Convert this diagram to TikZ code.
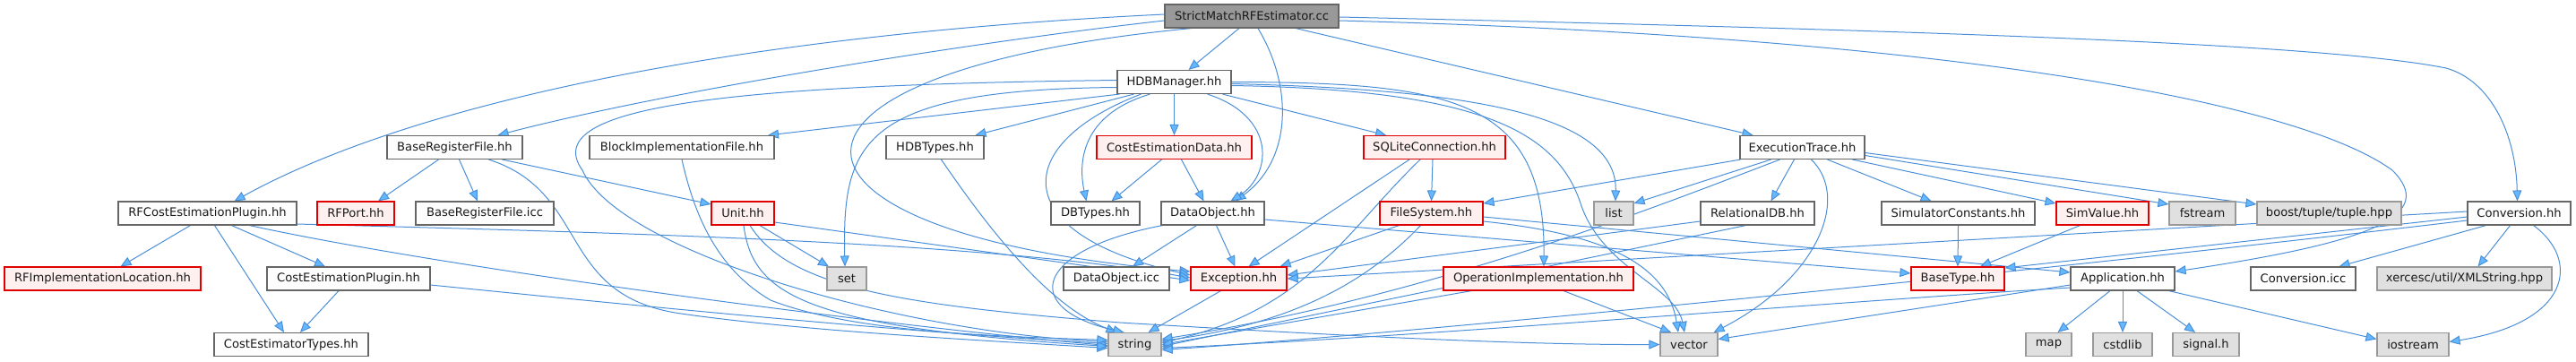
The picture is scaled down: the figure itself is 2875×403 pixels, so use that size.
\documentclass[tikz,border=0pt]{standalone}
\usepackage{fontspec}
\setmainfont{DejaVu Sans}
\usetikzlibrary{arrows.meta,calc}
\definecolor{ec}{HTML}{4A8FD8}
\definecolor{af}{HTML}{63B8FF}
\definecolor{nbd}{HTML}{666666}
\definecolor{nbf}{HTML}{FCFDFC}
\definecolor{rbd}{HTML}{E00000}
\definecolor{rbf}{HTML}{FFF0F0}
\definecolor{gbd}{HTML}{999999}
\definecolor{gbf}{HTML}{E0E0E0}
\definecolor{rootf}{HTML}{999999}
\pgfdeclarelayer{back}
\pgfdeclarelayer{bg}
\pgfsetlayers{back,bg,main}
\begin{document}
\begin{tikzpicture}[x=0.5pt,y=-0.5pt,
 nb/.style={draw=nbd, fill=nbf, line width=0.55pt, minimum height=13pt, inner sep=0pt, font=\fontsize{6.55}{8}\selectfont, text=black!90},
 rb/.style={nb, draw=rbd, fill=rbf},
 gb/.style={nb, draw=gbd, fill=gbf},
 rootb/.style={nb, fill=rootf, draw=nbd},
 e/.style={draw=ec, line width=0.5pt, -{Triangle[length=6pt,width=5pt,fill=af]}}]
\begin{pgfonlayer}{back}
\fill[white] (0,0) rectangle (2875,403);
\end{pgfonlayer}
\useasboundingbox (0,0) rectangle (2875,403);
% row 0
\node[rootb, minimum width=97pt] (S) at (1397,18) {StrictMatchRFEstimator.cc};
% row 1
\node[nb, minimum width=63.5pt] (H) at (1310.5,91.5) {HDBManager.hh};
% row 2
\node[nb, minimum width=75.5pt] (BRF) at (507.5,164.5) {BaseRegisterFile.hh};
\node[nb, minimum width=103pt] (BIF) at (761,164.5) {BlockImplementationFile.hh};
\node[nb, minimum width=54.5pt] (HT) at (1043.5,164.5) {HDBTypes.hh};
\node[rb, minimum width=86.5pt] (CED) at (1310.5,164.5) {CostEstimationData.hh};
\node[rb, minimum width=79pt] (SQL) at (1601,164.5) {SQLiteConnection.hh};
\node[nb, minimum width=69.5pt] (ET) at (2011.5,164.5) {ExecutionTrace.hh};
% row 3
\node[nb, minimum width=99.5pt] (RFC) at (231.5,238) {RFCostEstimationPlugin.hh};
\node[rb, minimum width=43pt] (RFP) at (397,238) {RFPort.hh};
\node[nb, minimum width=77pt] (BRI) at (541,238) {BaseRegisterFile.icc};
\node[rb, minimum width=35pt] (U) at (829,238) {Unit.hh};
\node[nb, minimum width=49.5pt] (DBT) at (1222.5,238) {DBTypes.hh};
\node[nb, minimum width=57.5pt] (DO) at (1353.5,238) {DataObject.hh};
\node[rb, minimum width=57.5pt] (FS) at (1597.5,238) {FileSystem.hh};
\node[gb, minimum width=22pt] (list) at (1801,238) {list};
\node[nb, minimum width=63.5pt] (RDB) at (1961.5,238) {RelationalDB.hh};
\node[nb, minimum width=85.5pt] (SC) at (2185.5,238) {SimulatorConstants.hh};
\node[rb, minimum width=51.5pt] (SV) at (2346.5,238) {SimValue.hh};
\node[gb, minimum width=37pt] (fstream) at (2458,238) {fstream};
\node[gb, minimum width=80.5pt] (boost) at (2599.5,238) {boost/tuple/tuple.hpp};
\node[nb, minimum width=57.5pt] (CONV) at (2811.5,238) {Conversion.hh};
% row 4
\node[rb, minimum width=109.5pt] (RIL) at (114.5,311) {RFImplementationLocation.hh};
\node[nb, minimum width=91pt] (CEP) at (389,311) {CostEstimationPlugin.hh};
\node[gb, minimum width=22pt] (set) at (945,311) {set};
\node[nb, minimum width=59pt] (DOI) at (1246,311) {DataObject.icc};
\node[rb, minimum width=53.5pt] (EX) at (1382.5,311) {Exception.hh};
\node[rb, minimum width=106pt] (OI) at (1717,311) {OperationImplementation.hh};
\node[rb, minimum width=52pt] (BT) at (2185,311) {BaseType.hh};
\node[nb, minimum width=58pt] (APP) at (2369,311) {Application.hh};
\node[nb, minimum width=58.5pt] (CICC) at (2570.5,311) {Conversion.icc};
\node[gb, minimum width=97.5pt] (XML) at (2750.5,311) {xercesc/util/XMLString.hpp};
% row 5
\node[nb, minimum width=86pt] (CET) at (325,384.5) {CostEstimatorTypes.hh};
\node[gb, minimum width=29.5pt] (string) at (1266.5,384.5) {string};
\node[gb, minimum width=32pt] (vector) at (1885,384.5) {vector};
\node[gb, minimum width=25.5pt] (map) at (2286.5,384.5) {map};
\node[gb, minimum width=33pt] (cstdlib) at (2369,384.5) {cstdlib};
\node[gb, minimum width=37pt] (signal) at (2462,384.5) {signal.h};
\node[gb, minimum width=40pt] (iostream) at (2693,384.5) {iostream};

\begin{pgfonlayer}{bg}
% StrictMatchRFEstimator.cc
\draw[e] ($(S.south)+(-14,0)$) -- ($(H.north)+(16,0)$);
\draw[e] ($(S.south)+(7,0)$) .. controls (1445,100) and (1440,180) .. ($(DO.north)+(25,0)$);
\draw[e] ($(S.west)+(0,5)$) .. controls (1100,45) and (750,100) .. ($(BRF.north)+(48,0)$);
\draw[e] ($(S.west)+(0,-2)$) .. controls (800,40) and (450,120) .. ($(RFC.north)+(30,0)$);
\draw[e] ($(S.south)+(-67,0)$) .. controls (820,80) and (830,260) .. ($(EX.west)+(0,-8)$);
\draw[e] ($(S.south)+(49,0)$) -- ($(ET.north)+(-55,0)$);
\draw[e] ($(S.east)+(0,1)$) .. controls (2200,35) and (2600,50) .. (2730,76) .. controls (2780,90) and (2808,150) .. ($(CONV.north)+(-2,0)$);
\draw[e] ($(S.east)+(0,5)$) .. controls (2150,40) and (2560,110) .. (2670,190) .. controls (2720,240) and (2650,270) .. ($(APP.east)+(0,-8)$);
% HDBManager.hh
\draw[e] ($(H.south west)+(3,0)$) -- ($(BIF.north)+(96,0)$);
\draw[e] ($(H.south)+(-45,0)$) -- ($(HT.north)+(45,0)$);
\draw[e] (H) -- (CED);
\draw[e] ($(H.south)+(-27,0)$) .. controls (1200,130) and (1205,190) .. ($(DBT.north)+(-10,0)$);
\draw[e] ($(H.south)+(37,0)$) .. controls (1425,130) and (1420,195) .. ($(DO.north)+(20,0)$);
\draw[e] ($(H.south)+(-37,0)$) .. controls (1130,160) and (1120,260) .. ($(EX.west)+(0,-4)$);
\draw[e] (H) -- (SQL);
\draw[e] ($(H.east)+(0,2)$) .. controls (1650,100) and (1805,130) .. ($(list.north)+(2,0)$);
\draw[e] ($(H.east)+(0,0)$) .. controls (1620,92) and (1725,110) .. ($(OI.north)+(6,0)$);
\draw[e] ($(H.east)+(0,4)$) .. controls (1660,100) and (1740,150) .. (1765,230) .. controls (1790,300) and (1870,320) .. ($(vector.north)+(-5,0)$);
\draw[e] ($(H.west)+(0,6)$) .. controls (960,100) and (940,160) .. ($(set.north)+(-2,0)$);
\draw[e] ($(H.west)+(0,-2)$) .. controls (800,95) and (600,120) .. (650,190) .. controls (690,280) and (1000,370) .. ($(string.west)+(0,-3)$);
% BaseRegisterFile.hh
\draw[e] ($(BRF.south)+(-18,0)$) -- ($(RFP.north)+(25,0)$);
\draw[e] ($(BRF.south)+(5,0)$) -- ($(BRI.north)+(-8,0)$);
\draw[e] ($(BRF.south)+(53,0)$) -- ($(U.west)+(0,-10)$);
\draw[e] ($(BRF.south)+(38,0)$) .. controls (660,215) and (620,330) .. (760,350) .. controls (900,370) and (1100,380) .. ($(string.west)+(0,4)$);
% RFCostEstimationPlugin.hh
\draw[e] ($(RFC.south)+(-19,0)$) -- ($(RIL.north)+(20,0)$);
\draw[e] ($(RFC.south)+(8,0)$) -- ($(CET.north)+(-8,0)$);
\draw[e] ($(RFC.south)+(27,0)$) -- ($(CEP.north)+(-26,0)$);
\draw[e] ($(RFC.south)+(47,0)$) .. controls (500,300) and (1000,365) .. ($(string.west)+(0,1)$);
\draw[e] ($(RFC.east)+(0,12)$) .. controls (700,260) and (1100,270) .. ($(EX.west)+(0,-1)$);
% CostEstimationPlugin.hh
\draw[e] ($(CEP.south)+(-11,0)$) -- ($(CET.north)+(10,0)$);
\draw[e] ($(CEP.east)+(0,7)$) .. controls (700,340) and (1000,370) .. ($(string.west)+(0,-1)$);
% Unit.hh
\draw[e] ($(U.south)+(19,0)$) -- ($(set.north)+(-20,0)$);
\draw[e] ($(U.south)+(1,0)$) .. controls (840,330) and (900,365) .. ($(string.west)+(0,2)$);
\draw[e] ($(U.south)+(8,0)$) .. controls (880,320) and (1000,340) .. (1250,360) .. controls (1500,375) and (1700,385) .. (vector.west);
\draw[e] ($(U.east)+(0,10)$) -- ($(EX.west)+(0,2)$);
% BlockImplementationFile.hh, HDBTypes.hh
\draw[e] (BIF.south) .. controls (775,240) and (800,300) .. (860,335) .. controls (950,370) and (1100,375) .. ($(string.west)+(0,-5)$);
\draw[e] ($(HT.south)+(7,0)$) .. controls (1120,280) and (1180,345) .. ($(string.north)+(-20,0)$);
% CostEstimationData.hh
\draw[e] ($(CED.south)+(-14,0)$) -- ($(DBT.north)+(18,0)$);
\draw[e] ($(CED.south)+(8,0)$) -- ($(DO.north)+(-10,0)$);
% DataObject.hh
\draw[e] ($(DO.south)+(-18,0)$) -- ($(DOI.north)+(18,0)$);
\draw[e] ($(DO.south)+(4,0)$) -- ($(EX.north)+(-4,0)$);
\draw[e] ($(DO.south west)+(2,0)$) .. controls (1150,280) and (1140,345) .. ($(string.north)+(-12,0)$);
\draw[e] ($(DO.east)+(0,7)$) -- ($(BT.west)+(0,-6)$);
% Exception.hh
\draw[e] ($(EX.south)+(-20,0)$) -- ($(string.north)+(15,0)$);
% SQLiteConnection.hh
\draw[e] ($(SQL.south)+(-2,0)$) -- (FS.north);
\draw[e] ($(SQL.south)+(-28,0)$) -- ($(EX.north)+(11,0)$);
\draw[e] ($(SQL.south)+(-16,0)$) .. controls (1500,260) and (1460,345) .. ($(string.east)+(0,-2)$);
% FileSystem.hh
\draw[e] ($(FS.south)+(-36,0)$) -- ($(EX.north east)+(-8,0)$);
\draw[e] ($(FS.south)+(-12,0)$) .. controls (1530,310) and (1450,360) .. ($(string.east)+(0,-4)$);
\draw[e] ($(FS.east)+(0,9)$) .. controls (1780,260) and (1860,290) .. ($(vector.north)+(-12,0)$);
\draw[e] ($(FS.east)+(0,4)$) -- ($(APP.west)+(0,-7)$);
% ExecutionTrace.hh
\draw[e] ($(ET.south west)+(1,0)$) -- ($(FS.east)+(0,-11)$);
\draw[e] ($(ET.south)+(-35,0)$) -- ($(list.east)+(0,-11)$);
\draw[e] ($(ET.south)+(-9,0)$) -- ($(RDB.north)+(15,0)$);
\draw[e] ($(ET.south)+(10,0)$) .. controls (2065,220) and (2030,310) .. ($(vector.north east)+(-5,0)$);
\draw[e] ($(ET.south)+(28,0)$) -- ($(SC.north)+(-30,0)$);
\draw[e] ($(ET.south)+(56,0)$) -- ($(SV.west)+(0,-11)$);
\draw[e] ($(ET.east)+(0,9)$) -- ($(fstream.west)+(0,-10)$);
\draw[e] ($(ET.east)+(0,6)$) -- ($(boost.west)+(0,-10)$);
\draw[e] ($(ET.south)+(-25,0)$) .. controls (1850,230) and (1600,330) .. ($(string.east)+(0,-6)$);
% RelationalDB.hh
\draw[e] ($(RDB.west)+(0,9)$) -- ($(EX.east)+(0,-4)$);
\draw[e] ($(RDB.south)+(-13,0)$) -- ($(string.east)+(0,2)$);
% SimulatorConstants.hh, SimValue.hh
\draw[e] (SC.south) -- (BT.north);
\draw[e] ($(SV.south)+(-25,0)$) -- ($(BT.north)+(25,0)$);
% OperationImplementation.hh
\draw[e] ($(OI.south west)+(32,0)$) -- ($(string.east)+(0,0)$);
\draw[e] ($(OI.south)+(28,0)$) -- ($(vector.north)+(-20,0)$);
% Application.hh
\draw[e] ($(APP.south)+(-14,0)$) -- ($(map.north)+(10,0)$);
\draw[e] (APP.south) -- (cstdlib.north);
\draw[e] ($(APP.south)+(16,0)$) -- ($(signal.north)+(-12,0)$);
\draw[e] ($(APP.south east)+(-7,0)$) -- ($(iostream.west)+(0,-6)$);
\draw[e] ($(APP.west)+(0,10)$) .. controls (2000,340) and (1600,375) .. ($(string.east)+(0,4)$);
\draw[e] ($(APP.west)+(0,7)$) -- ($(vector.east)+(0,-6)$);
% Conversion.hh
\draw[e] ($(CONV.south)+(-37,0)$) -- ($(CICC.north)+(40,0)$);
\draw[e] ($(CONV.south)+(-10,0)$) -- ($(XML.north)+(15,0)$);
\draw[e] ($(CONV.south)+(16,0)$) .. controls (2880,290) and (2870,360) .. ($(iostream.east)+(0,-3)$);
\draw[e] ($(CONV.west)+(0,-2)$) -- ($(EX.east)+(0,0)$);
\draw[e] ($(CONV.west)+(0,4)$) -- ($(BT.east)+(0,-12)$);
\draw[e] ($(CONV.west)+(0,8)$) .. controls (2300,300) and (1600,370) .. ($(string.east)+(0,6)$);
\end{pgfonlayer}
\end{tikzpicture}
\end{document}
